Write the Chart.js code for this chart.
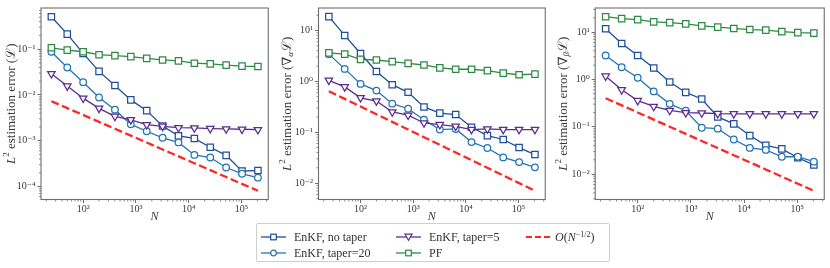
<!DOCTYPE html>
<html>
<head>
<meta charset="utf-8">
<script src="https://cdn.jsdelivr.net/npm/chart.js@4.4.1/dist/chart.umd.min.js"></script>
<style>
  html, body { margin: 0; padding: 0; background: #fff; }
  #wrap { position: relative; width: 830px; height: 268px; overflow: hidden; }
  canvas { position: absolute; top: 0; }
  #legend { position: absolute; left: 256px; top: 223px; width: 354px; height: 39px; border: 1px solid #cfcfcf; border-radius: 2px; box-sizing: border-box; font-family: 'Liberation Serif', 'DejaVu Serif', serif; font-size: 12px; color: #333; }
  .item { position: absolute; height: 14px; line-height: 14px; white-space: nowrap; }
  .item svg { position: absolute; left: 0; top: 2px; }
  .item span { position: absolute; top: 0; left: 33px; }
  .item sup { font-size: 8px; vertical-align: 4px; line-height: 0; }
</style>
</head>
<body>
<div id="wrap">
  <canvas id="c1" width="274" height="230" style="left:0px"></canvas>
  <canvas id="c2" width="275" height="230" style="left:276px"></canvas>
  <canvas id="c3" width="278" height="230" style="left:552px"></canvas>

  <div id="legend">
    <div class="item" style="left:4px;top:6px">
      <svg width="25" height="10"><line x1="0" y1="5" x2="25" y2="5" stroke="#1f4f9c" stroke-width="1.3"/><rect x="9.7" y="2.2" width="5.6" height="5.6" fill="#fff" stroke="#1f4f9c" stroke-width="1.2"/></svg>
      <span>EnKF, no taper</span>
    </div>
    <div class="item" style="left:4px;top:22px">
      <svg width="25" height="10"><line x1="0" y1="5" x2="25" y2="5" stroke="#2474b5" stroke-width="1.3"/><circle cx="12.5" cy="5" r="2.8" fill="#fff" stroke="#2474b5" stroke-width="1.2"/></svg>
      <span>EnKF, taper=20</span>
    </div>
    <div class="item" style="left:139px;top:6px">
      <svg width="25" height="10"><line x1="0" y1="5" x2="25" y2="5" stroke="#5b2d90" stroke-width="1.3"/><polygon points="9,2.2 16,2.2 12.5,8.2" fill="#fff" stroke="#5b2d90" stroke-width="1.2"/></svg>
      <span>EnKF, taper=5</span>
    </div>
    <div class="item" style="left:139px;top:22px">
      <svg width="25" height="10"><line x1="0" y1="5" x2="25" y2="5" stroke="#2e8a43" stroke-width="1.3"/><rect x="9.7" y="2.2" width="5.6" height="5.6" fill="#fff" stroke="#2e8a43" stroke-width="1.2"/></svg>
      <span>PF</span>
    </div>
    <div class="item" style="left:269px;top:6px">
      <svg width="25" height="10"><line x1="0" y1="5" x2="25" y2="5" stroke="#ff2626" stroke-width="2.2" stroke-dasharray="6,3"/></svg>
      <span style="left:29px"><i>O</i>(<i>N</i><sup>−1/2</sup>)</span>
    </div>
  </div>
</div>

<script>
/* DATA */

var N = [25, 50, 100, 200, 400, 800, 1600, 3200, 6400, 12800, 25600, 51200, 102400, 204800];

// панель 1 : L2 error of L
var noTaper1 = [0.51, 0.213, 0.081, 0.0327, 0.0161, 0.0078, 0.00454, 0.0021, 0.00128, 0.00112, 0.00072, 0.00048, 0.000217, 0.000224];
var taper20_1 = [0.0877, 0.0398, 0.019, 0.00877, 0.00477, 0.00228, 0.00161, 0.00116, 0.00092, 0.00049, 0.00043, 0.00026, 0.00019, 0.000156];
var taper5_1 = [0.0291, 0.0156, 0.0085, 0.0051, 0.0034, 0.00286, 0.00224, 0.00206, 0.00193, 0.0019, 0.00184, 0.00181, 0.00178, 0.00174];
var pf1 = [0.107, 0.0952, 0.0877, 0.0756, 0.072, 0.0685, 0.063, 0.0581, 0.0553, 0.0493, 0.0477, 0.0447, 0.0425, 0.0418];
var ref1 = [0.0073, 0.00516, 0.00365, 0.00258, 0.001825, 0.00129, 0.000913, 0.000645, 0.000456, 0.000323, 0.000228, 0.000161, 0.000114, 0.0000807];

// панель 2 : grad alpha
var noTaper2 = [18.7, 8.0, 3.53, 1.56, 0.86, 0.61, 0.314, 0.237, 0.223, 0.125, 0.086, 0.072, 0.050, 0.0364];
var taper20_2 = [3.43, 1.76, 0.89, 0.66, 0.364, 0.29, 0.176, 0.113, 0.116, 0.064, 0.049, 0.032, 0.0259, 0.0204];
var taper5_2 = [1.05, 0.78, 0.475, 0.41, 0.251, 0.216, 0.152, 0.141, 0.131, 0.113, 0.116, 0.113, 0.113, 0.113];
var pf2 = [3.64, 3.43, 2.71, 2.63, 2.44, 2.26, 2.1, 1.84, 1.73, 1.73, 1.63, 1.45, 1.35, 1.39];
var ref2 = [0.64, 0.4525, 0.32, 0.2263, 0.16, 0.1131, 0.08, 0.0566, 0.04, 0.0283, 0.02, 0.01414, 0.01, 0.00707];

// панель 3 : grad beta
var noTaper3 = [11.7, 5.74, 3.19, 1.74, 0.88, 0.53, 0.386, 0.161, 0.115, 0.065, 0.0404, 0.034, 0.0221, 0.0156];
var taper20_3 = [3.19, 1.8, 1.08, 0.556, 0.304, 0.218, 0.0953, 0.091, 0.0538, 0.0356, 0.0324, 0.0232, 0.0232, 0.0183];
var taper5_3 = [1.17, 0.601, 0.356, 0.268, 0.221, 0.198, 0.195, 0.189, 0.187, 0.187, 0.187, 0.187, 0.187, 0.187];
var pf3 = [21.1, 19.2, 18.3, 16.4, 15.8, 14.9, 13.5, 12.7, 11.9, 11.3, 11.0, 10.2, 9.7, 9.5];
var ref3 = [0.4, 0.283, 0.2, 0.1414, 0.1, 0.0707, 0.05, 0.0354, 0.025, 0.0177, 0.0125, 0.00884, 0.00625, 0.00442];

var seriesNames = ['EnKF, no taper', 'EnKF, taper=20', 'EnKF, taper=5', 'PF', 'O(N^-1/2)'];

// тики
var xTicks = [100, 1000, 10000, 100000];
var xTickLabels = ['10²', '10³', '10⁴', '10⁵'];
var yTicks1 = [0.0001, 0.001, 0.01, 0.1];
var yTickLabels1 = ['10⁻⁴', '10⁻³', '10⁻²', '10⁻¹'];
var yTicks23 = [0.01, 0.1, 1, 10];
var yTickLabels23 = ['10⁻²', '10⁻¹', '10⁰', '10¹'];

/* STYLE */

var FONT = "'Liberation Serif', 'DejaVu Serif', serif";
var FRAME = '#6e6e6e';
var TXT = '#3a3a3a';
var colors = ['#1f4f9c', '#2474b5', '#5b2d90', '#2e8a43', '#ff2626'];

/* PLUGINS */

// рамка вокруг области графика (все 4 стороны как в matplotlib)
var framePlugin = {
    id: 'frame',
    afterDraw: function (chart) {
        var c = chart.ctx, a = chart.chartArea;
        c.save();
        c.strokeStyle = FRAME;
        c.lineWidth = 1.1;
        c.strokeRect(a.left, a.top, a.right - a.left, a.bottom - a.top);
        c.restore();
    }
};

// минорные тики лог-шкалы
var minorTicksPlugin = {
    id: 'minorTicks',
    afterDraw: function (chart) {
        var c = chart.ctx, a = chart.chartArea;
        c.save();
        c.strokeStyle = FRAME;
        c.lineWidth = 0.8;
        ['x', 'y'].forEach(function (key) {
            var sc = chart.scales[key];
            var e0 = Math.floor(Math.log10(sc.min)), e1 = Math.ceil(Math.log10(sc.max));
            for (var e = e0; e <= e1; e++) {
                for (var k = 2; k <= 9; k++) {
                    var v = k * Math.pow(10, e);
                    if (v < sc.min || v > sc.max) continue;
                    var p = sc.getPixelForValue(v);
                    c.beginPath();
                    if (key === 'x') { c.moveTo(p, a.bottom); c.lineTo(p, a.bottom + 2); }
                    else { c.moveTo(a.left, p); c.lineTo(a.left - 2, p); }
                    c.stroke();
                }
            }
        });
        c.restore();
    }
};

// подпись оси Y с курсивом / индексами
var yTitlePlugin = {
    id: 'yTitle',
    afterDraw: function (chart, args, opts) {
        var c = chart.ctx, a = chart.chartArea;
        var parts = opts.parts || [];
        c.save();
        c.translate(opts.x, (a.top + a.bottom) / 2);
        c.rotate(-Math.PI / 2);
        c.fillStyle = TXT;
        c.textBaseline = 'middle';
        c.textAlign = 'left';
        var total = 0;
        parts.forEach(function (p) {
            c.font = (p.italic ? 'italic ' : '') + (p.size || 13) + 'px ' + FONT;
            p.w = c.measureText(p.t).width;
            total += p.w;
        });
        var cx = -total / 2;
        parts.forEach(function (p) {
            c.font = (p.italic ? 'italic ' : '') + (p.size || 13) + 'px ' + FONT;
            c.fillText(p.t, cx, p.dy || 0);
            cx += p.w;
        });
        c.restore();
    }
};

/* CHARTS */

function toPoints(vals) {
    return N.map(function (n, i) { return { x: n, y: vals[i] }; });
}

function tickLabel(list, labels) {
    return function (value) {
        var i = list.indexOf(value);
        return i >= 0 ? labels[i] : '';
    };
}

function GeneratePanel(id, series, yMin, yMax, yTicks, yTickLabels, yWidth, padRight, titleParts, titleX) {

    var ctx = document.getElementById(id).getContext('2d');

    var styles = [
        { pointStyle: 'rect', pointRadius: 4.5, rot: 0 },
        { pointStyle: 'circle', pointRadius: 3.3, rot: 0 },
        { pointStyle: 'triangle', pointRadius: 4.3, rot: 180 },
        { pointStyle: 'rect', pointRadius: 4.5, rot: 0 },
        { pointStyle: false, pointRadius: 0, rot: 0 }
    ];

    var datasets = series.map(function (vals, i) {
        var isRef = i === 4;
        return {
            label: seriesNames[i],
            data: toPoints(vals),
            borderColor: colors[i],
            borderWidth: isRef ? 2.3 : 1.3,
            borderDash: isRef ? [8, 3.5] : [],
            pointStyle: styles[i].pointStyle,
            pointRadius: styles[i].pointRadius,
            pointRotation: styles[i].rot,
            pointBackgroundColor: '#ffffff',
            pointBorderColor: colors[i],
            pointBorderWidth: 1.25,
            fill: false,
            tension: 0,
            order: 5 - i
        };
    });

    return new Chart(ctx, {
        type: 'line',
        data: { datasets: datasets },
        options: {
            responsive: false,
            animation: false,
            layout: { padding: { top: 3.5, right: padRight, bottom: 0, left: 0 } },
            plugins: {
                legend: { display: false },
                tooltip: { enabled: false },
                yTitle: { parts: titleParts, x: titleX }
            },
            scales: {
                x: {
                    type: 'logarithmic',
                    min: 15.9,
                    max: 321400,
                    afterBuildTicks: function (scale) {
                        scale.ticks = xTicks.map(function (v) { return { value: v }; });
                    },
                    afterFit: function (scale) { scale.height = 30.5; },
                    border: { display: false },
                    grid: { drawOnChartArea: false, tickLength: 3.5, color: FRAME, lineWidth: 1 },
                    ticks: {
                        autoSkip: false,
                        maxRotation: 0,
                        padding: 0,
                        color: TXT,
                        font: { family: FONT, size: 10 },
                        callback: tickLabel(xTicks, xTickLabels)
                    },
                    title: {
                        display: true,
                        text: 'N',
                        color: TXT,
                        font: { family: FONT, size: 12, style: 'italic' },
                        padding: { top: 0, bottom: 6 }
                    }
                },
                y: {
                    type: 'logarithmic',
                    min: yMin,
                    max: yMax,
                    afterBuildTicks: function (scale) {
                        scale.ticks = yTicks.map(function (v) { return { value: v }; });
                    },
                    afterFit: function (scale) { scale.width = yWidth; },
                    border: { display: false },
                    grid: { drawOnChartArea: false, tickLength: 3.5, color: FRAME, lineWidth: 1 },
                    ticks: {
                        autoSkip: false,
                        padding: 2,
                        color: TXT,
                        font: { family: FONT, size: 10 },
                        callback: tickLabel(yTicks, yTickLabels)
                    }
                }
            }
        },
        plugins: [framePlugin, minorTicksPlugin, yTitlePlugin]
    });
}

function titleFor(gradSub) {
    var parts = [
        { t: 'L', italic: true },
        { t: '2', size: 9, dy: -5 },
        { t: ' estimation error (' }
    ];
    if (gradSub) {
        parts.push({ t: '∇' });
        parts.push({ t: gradSub, italic: true, size: 9, dy: 3 });
    }
    parts.push({ t: 'ℒ' });
    parts.push({ t: ')' });
    return parts;
}

GeneratePanel('c1', [noTaper1, taper20_1, taper5_1, pf1, ref1], 5.21e-5, 0.791, yTicks1, yTickLabels1, 41, 2.5, titleFor(null), 11.7);
GeneratePanel('c2', [noTaper2, taper20_2, taper5_2, pf2, ref2], 0.00476, 27.7, yTicks23, yTickLabels23, 42.5, 2.2, titleFor('α'), 11.5);
GeneratePanel('c3', [noTaper3, taper20_3, taper5_3, pf3, ref3], 0.0029, 32.2, yTicks23, yTickLabels23, 43.2, 4.5, titleFor('β'), 11.3);
</script>
</body>
</html>
